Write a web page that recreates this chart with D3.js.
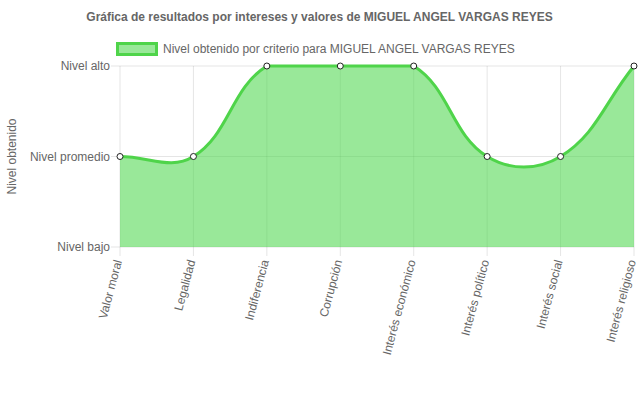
<!DOCTYPE html>
<html>
<head>
<meta charset="utf-8">
<script src="https://cdn.jsdelivr.net/npm/d3@7"></script>
<style>
  body { margin: 0; background: #fff; }
  svg { display: block; font-family: "Liberation Sans", Arial, Helvetica, sans-serif; }
</style>
</head>
<body>
<div id="chart"></div>
<script>
// categories and values (1 = bajo, 2 = promedio, 3 = alto)
const categories = ["Valor moral", "Legalidad", "Indiferencia", "Corrupción", "Interés económico", "Interés político", "Interés social", "Interés religioso"];
const levels = [2, 2, 3, 3, 3, 2, 2, 3];
const levelLabels = ["Nivel bajo", "Nivel promedio", "Nivel alto"];
const levelValues = [1, 2, 3];
const seriesName = "Nivel obtenido por criterio para MIGUEL ANGEL VARGAS REYES";
const title = "Gráfica de resultados por intereses y valores de MIGUEL ANGEL VARGAS REYES";

const width = 639, height = 396;
const margin = {top: 66, right: 5, bottom: 149, left: 120};

const svg = d3.select("#chart").append("svg")
    .attr("width", width)
    .attr("height", height);

const x = d3.scalePoint()
    .domain(categories)
    .range([margin.left, width - margin.right]);

const y = d3.scaleLinear()
    .domain([1, 3])
    .range([height - margin.bottom, margin.top]);

const grid = "rgba(0,0,0,0.1)";
const textColor = "#666";

// title
svg.append("text")
    .attr("x", width / 2)
    .attr("y", 21)
    .attr("text-anchor", "middle")
    .attr("font-size", 12)
    .attr("font-weight", "bold")
    .attr("fill", textColor)
    .text(title);

// legend
svg.append("rect")
    .attr("x", 117.5).attr("y", 43.5)
    .attr("width", 39).attr("height", 11)
    .attr("fill", "rgba(80,215,80,0.58)")
    .attr("stroke", "#4fd44a")
    .attr("stroke-width", 3);
svg.append("text")
    .attr("x", 163).attr("y", 53)
    .attr("font-size", 12)
    .attr("fill", textColor)
    .text(seriesName);

// gridlines
svg.append("g").selectAll("line")
    .data(categories)
    .join("line")
    .attr("x1", d => x(d)).attr("x2", d => x(d))
    .attr("y1", y(3)).attr("y2", y(1) + 9)
    .attr("stroke", grid);

svg.append("g").selectAll("line")
    .data(levelValues)
    .join("line")
    .attr("x1", margin.left - 9).attr("x2", width - margin.right)
    .attr("y1", d => y(d)).attr("y2", d => y(d))
    .attr("stroke", grid);

// y labels
svg.append("g").selectAll("text")
    .data(levelValues)
    .join("text")
    .attr("x", margin.left - 10)
    .attr("y", d => y(d))
    .attr("dy", "0.35em")
    .attr("text-anchor", "end")
    .attr("font-size", 12)
    .attr("fill", textColor)
    .text((d, i) => levelLabels[i]);

// y title
svg.append("text")
    .attr("transform", `translate(16,${(y(1) + y(3)) / 2}) rotate(-90)`)
    .attr("text-anchor", "middle")
    .attr("font-size", 12)
    .attr("fill", textColor)
    .text("Nivel obtenido");

// x labels
svg.append("g").selectAll("text")
    .data(categories)
    .join("text")
    .attr("transform", d => `translate(${x(d) - 2},${y(1) + 13}) rotate(-75)`)
    .attr("text-anchor", "end")
    .attr("dy", "0.35em")
    .attr("font-size", 12)
    .attr("fill", textColor)
    .text(d => d);

// chart.js style spline (tension 0.4)
const pts = categories.map((c, i) => [x(c), y(levels[i])]);
function controlPoints(p) {
    const t = 0.4;
    return p.map((cur, i) => {
        const prev = p[i - 1] || cur, next = p[i + 1] || cur;
        const d01 = Math.hypot(cur[0] - prev[0], cur[1] - prev[1]);
        const d12 = Math.hypot(next[0] - cur[0], next[1] - cur[1]);
        let s01 = d01 / (d01 + d12), s12 = d12 / (d01 + d12);
        s01 = isNaN(s01) ? 0 : s01; s12 = isNaN(s12) ? 0 : s12;
        const fa = t * s01, fb = t * s12;
        return {
            prev: [cur[0] - fa * (next[0] - prev[0]), Math.min(y(1), Math.max(y(3), cur[1] - fa * (next[1] - prev[1])))],
            next: [cur[0] + fb * (next[0] - prev[0]), Math.min(y(1), Math.max(y(3), cur[1] + fb * (next[1] - prev[1])))]
        };
    });
}
const cps = controlPoints(pts);
function linePath(p) {
    p.moveTo(pts[0][0], pts[0][1]);
    for (let i = 1; i < pts.length; i++) {
        p.bezierCurveTo(cps[i - 1].next[0], cps[i - 1].next[1], cps[i].prev[0], cps[i].prev[1], pts[i][0], pts[i][1]);
    }
    return p;
}
const area = linePath(d3.path());
area.lineTo(pts[pts.length - 1][0], y(1));
area.lineTo(pts[0][0], y(1));
area.closePath();

svg.append("path")
    .attr("d", area.toString())
    .attr("fill", "rgba(80,215,80,0.58)");

svg.append("path")
    .attr("d", linePath(d3.path()).toString())
    .attr("fill", "none")
    .attr("stroke", "#4fd44a")
    .attr("stroke-width", 3);

svg.append("g").selectAll("circle")
    .data(pts)
    .join("circle")
    .attr("cx", d => d[0]).attr("cy", d => d[1])
    .attr("r", 3)
    .attr("fill", "#fff")
    .attr("stroke", "#222")
    .attr("stroke-width", 1);
</script>
</body>
</html>
